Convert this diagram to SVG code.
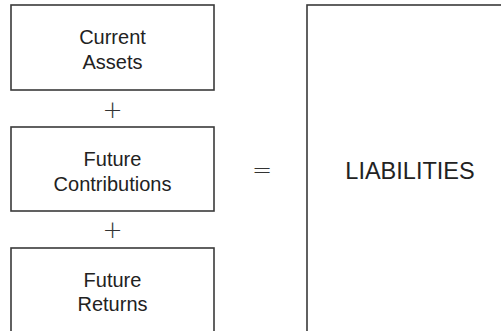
<svg xmlns="http://www.w3.org/2000/svg" width="501" height="331" viewBox="0 0 501 331">
  <style>
    .box { fill: #ffffff; stroke: #3a3a3a; stroke-width: 1.6; }
    .label { font-family: "Liberation Sans", Arial, sans-serif; font-size: 20px; fill: #222222; text-anchor: middle; }
    .big { font-size: 23.5px; }
    .op { font-family: "DejaVu Sans", sans-serif; font-weight: 200; font-size: 24px; fill: #333333; text-anchor: middle; }
  </style>
  <rect width="501" height="331" fill="#ffffff"/>

  <g id="current-assets">
    <rect class="box" x="11" y="5" width="203" height="85"/>
    <text class="label" x="112.5" y="44">Current</text>
    <text class="label" x="112.5" y="69">Assets</text>
  </g>

  <g id="future-contributions">
    <rect class="box" x="11" y="127" width="203" height="84"/>
    <text class="label" x="112.5" y="166">Future</text>
    <text class="label" x="112.5" y="191">Contributions</text>
  </g>

  <g id="future-returns">
    <rect class="box" x="11" y="248" width="203" height="120"/>
    <text class="label" x="112.5" y="287">Future</text>
    <text class="label" x="112.5" y="311">Returns</text>
  </g>

  <g id="liabilities">
    <rect class="box" x="307" y="5" width="250" height="400"/>
    <text class="label big" x="410" y="179">LIABILITIES</text>
  </g>

  <g id="operators">
    <text class="op" x="112.5" y="118">+</text>
    <text class="op" x="112.5" y="238">+</text>
    <text class="op" x="262" y="178">=</text>
  </g>
</svg>
